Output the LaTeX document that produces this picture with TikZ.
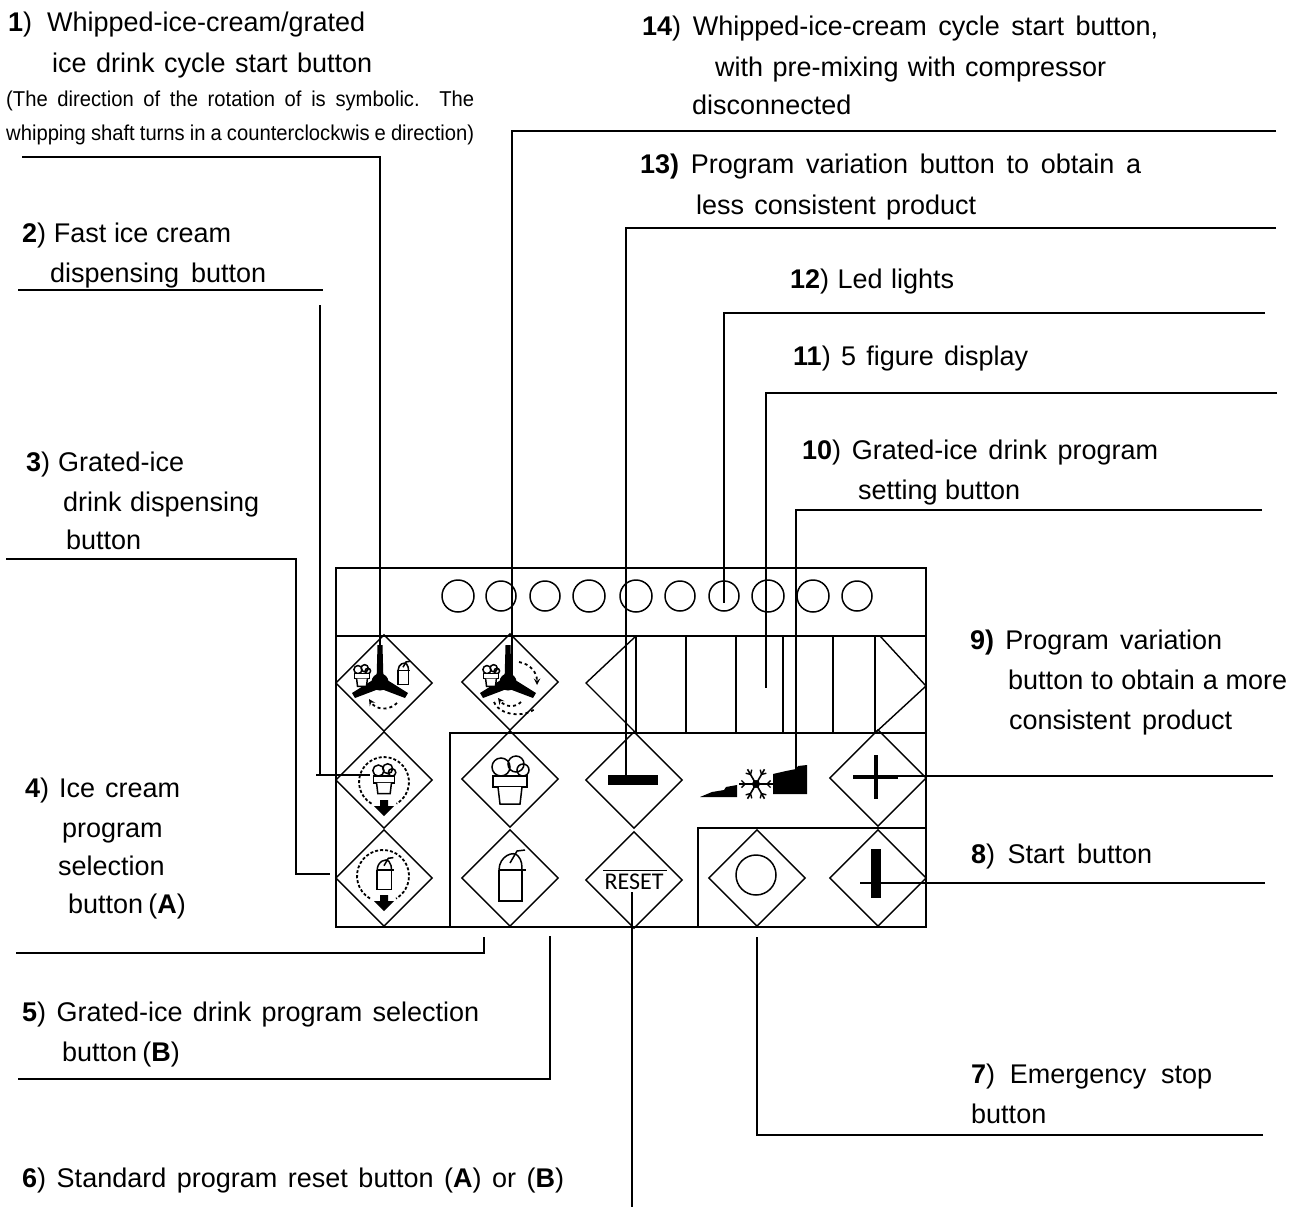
\documentclass[tikz,border=0pt]{standalone}
\usepackage{fontspec}
\setmainfont{Liberation Sans}
\newfontfamily\resetfont{Carlito}
\newfontfamily\narrowfont[FakeStretch=.94]{Liberation Sans}
\usetikzlibrary{shapes.geometric}
\newcommand{\fitw}[2]{\makebox[#1pt][s]{#2}}
\tikzset{
lab/.style={anchor=base west, inner sep=0pt, font=\fontsize{27}{30}\selectfont},
tiny lab/.style={anchor=base west, inner sep=0pt, font=\narrowfont\fontsize{21.5}{24}\selectfont},
panel/.style={line width=2.4pt},
lead/.style={line width=1.8pt},
btn/.style={diamond, draw, line width=1.4pt, inner sep=0pt, aspect=1, minimum width=97pt, minimum height=97pt},
ico/.style={line width=1.5pt},
pics/creamcup/.style={code={
  \draw[ico,fill=white] (-9,-12)circle(9pt) (6,-15)circle(8pt) (13,-9)circle(6pt);
  \draw[ico,fill=white] (-17,-3)--(17,-3)--(17,8)--(-17,8)--cycle;
  \draw[ico,fill=white] (-12,8)--(-10,25)--(10,25)--(12,8);
}},
pics/drinkcup/.style={code={
  \draw[ico] (-11,-8)..controls (-11,-22) and (4,-28)..(8,-22)..controls (12,-18) and (12,-12)..(12,-8);
  \draw[ico] (0,-15)--(7,-27)--(15,-28);
  \draw[ico,fill=white] (-11,-8)--(-11,23)--(12,23)--(12,-8);
  \draw[ico] (-11,-8)--(16,-8);
}},
pics/fan/.style={code={
  \fill (0,0)circle(8.5pt);
  \fill (-3.5,0)--(-2.5,-37)--(2.5,-37)--(3.5,0)--cycle;
  \fill (-4,-4)--(-28,11)--(-25,16)--(4,5)--cycle;
  \fill (4,-4)--(28,11)--(25,16)--(-4,5)--cycle;
}},
pics/downarrow/.style={code={
  \fill (-4,-8)--(4,-8)--(4,-2)--(10,-2)--(0,8)--(-10,-2)--(-4,-2)--cycle;
}},
}
\begin{document}
\begin{tikzpicture}[x=1pt, y=-1pt, line cap=butt, line join=miter, >=stealth]
\useasboundingbox (0,0) rectangle (1289,1207);
% panel
\draw[panel] (336,568) rectangle (926,927);
\draw[panel] (336,636)--(926,636) (450,927)--(450,733)--(926,733) (698,927)--(698,828)--(926,828);
\foreach \x in {636,686,736,783,833,875} \draw[panel,line width=2pt] (\x,636)--(\x,733);
% led lights
\foreach \x/\r [count=\i] in {458/16,501/15,545/15,589/16,636/16,680/15,724/15,768/16,813/16,857/15}
  \node[circle, draw, line width=1.5pt, inner sep=0pt, minimum size=2*\r pt] (led\i) at (\x,596) {};
% half buttons beside the display
\draw[line width=1.4pt] (636,636)--(586,683)--(636,733) (880,636)--(926,686)--(875,733);
% buttons
\node[btn] (fanA) at (384,683) {};
\node[btn] (fanB) at (510,682) {};
\node[btn] (fastcream) at (384,780) {};
\node[btn] (fastdrink) at (384,878) {};
\node[btn] (selA) at (510,779) {};
\node[btn] (selB) at (510,878) {};
\node[btn] (minus) at (634,780) {};
\node[btn] (reset) at (634,880) {};
\node[btn] (plus) at (878,778) {};
\node[btn] (stopbtn) at (757,878) {};
\node[btn] (startbtn) at (878,878) {};
% icons
\pic at (380,682) {fan};
\pic[scale=.45] at (362,675) {creamcup};
\pic[scale=.45] at (403,674) {drinkcup};
\draw[ico,line width=1.8pt,dashed,->] (397,703)..controls (389,711) and (376,710)..(369,699);
\pic at (508,682) {fan};
\pic[scale=.45] at (491,675) {creamcup};
\draw[ico,line width=1.8pt,dashed,->] (519,662)..controls (530,664) and (537,672)..(537,685);
\draw[ico,line width=1.8pt,dashed,->] (521,702)..controls (515,708) and (505,707)..(498,698);
\draw[ico,line width=1.8pt,dashed] (494,702)..controls (500,716) and (525,718)..(536,708);
\pic[scale=.62] at (384,778) {creamcup};
\draw[ico,line width=1.8pt,densely dashed] (384,782) ++(120:25) arc (120:420:25);
\pic at (384,808) {downarrow};
\pic[scale=.62] at (384,875) {drinkcup};
\draw[ico,line width=1.8pt,densely dashed] (383,876) ++(120:26) arc (120:420:26);
\pic at (384,903) {downarrow};
\pic at (510,779) {creamcup};
\pic at (510,878) {drinkcup};
\fill (608,775) rectangle (658,785);
\draw[line width=4pt] (853,777)--(898,777) (876,755)--(876,799);
\fill (871,849) rectangle (881,898);
\draw[line width=1.5pt] (756,875) circle (20pt);
\fill (700,797)--(712,792)--(724,790)--(726,787)--(737,785)--(737,797)--cycle;
\fill (773,774)--(786,771)--(796,769)--(798,766)--(807,765)--(807,794)--(773,794)--cycle;
\foreach \a in {0,60,...,300} {
  \draw[line width=1.6pt] (756,784)--++(\a:17);
  \draw[line width=1.4pt] (756,784)++(\a:11)--++(\a+45:5) (756,784)++(\a:11)--++(\a-45:5);
}
\fill (756,784) circle (4pt);
\node[inner sep=0pt, font=\resetfont\fontsize{24}{26}\selectfont] (resettext) at (634,882) {RESET};
\draw[line width=.7pt] (603,870)--(667,870);
% end points of the leaders
\path (22,157)coordinate(a1)+(358,0)coordinate(b1)+(358,523)coordinate(c1);
\path (1276,131)coordinate(a14)+(-764,0)coordinate(b14)+(-764,549)coordinate(c14);
\path (1276,228)coordinate(a13)+(-650,0)coordinate(b13)+(-650,552)coordinate(c13);
\path (1265,313)coordinate(a12)+(-541,0)coordinate(b12)+(-541,290)coordinate(c12);
\path (1277,393)coordinate(a11)+(-511,0)coordinate(b11)+(-511,295)coordinate(c11);
\path (1262,510)coordinate(a10)+(-466,0)coordinate(b10)+(-466,260)coordinate(c10);
\path (18,290)coordinate(a2)+(305,0)coordinate(b2)(320,305)coordinate(c2)(320,775)coordinate(d2)(370,775)coordinate(e2)(316,775)coordinate(f2);
\path (6,559)coordinate(a3)+(290,0)coordinate(b3)+(290,315)coordinate(c3)+(324,315)coordinate(d3);
\path (16,953)coordinate(a4)+(468,0)coordinate(b4)+(468,-16)coordinate(c4);
\path (18,1079)coordinate(a5)+(532,0)coordinate(b5)+(532,-143)coordinate(c5);
\path (632,892)coordinate(a6)+(0,315)coordinate(b6);
\path (1263,1135)coordinate(a7)+(-506,0)coordinate(b7)+(-506,-198)coordinate(c7);
\path (1265,883)coordinate(a8)+(-405,0)coordinate(b8);
\path (1273,776)coordinate(a9)+(-395,0)coordinate(b9);
% leaders
\draw[lead] (a1)--(b1)--(c1) (a14)--(b14)--(c14) (a13)--(b13)--(c13) (a12)--(b12)--(c12) (a11)--(b11)--(c11) (a10)--(b10)--(c10);
\draw[lead] (a2)--(b2) (c2)--(d2) (f2)--(e2) (a3)--(b3)--(c3)--(d3) (a4)--(b4)--(c4) (a5)--(b5)--(c5);
\draw[lead] (a6)--(b6) (a7)--(b7)--(c7) (a8)--(b8) (a9)--(b9);
% labels
\node[lab] (t1a) at (8,32) {\fitw{357}{\textbf{1}) Whipped-ice-cream/grated}};
\node[lab] (t1b) at (52,72) {\fitw{320}{ice drink cycle start button}};
\node[tiny lab] (t1c) at (6,106) {\fitw{468}{(The direction of the rotation of is symbolic. The}};
\node[tiny lab] (t1d) at (6,140) {\fitw{468}{whipping shaft turns in a counterclockwis e direction)}};
\node[lab] (t2a) at (22,242) {\fitw{209}{\textbf{2}) Fast ice cream}};
\node[lab] (t2b) at (50,282) {\fitw{216}{dispensing button}};
\node[lab] (t3a) at (26,471) {\fitw{158}{\textbf{3}) Grated-ice}};
\node[lab] (t3b) at (63,511) {\fitw{196}{drink dispensing}};
\node[lab] (t3c) at (66,549) {button};
\node[lab] (t4a) at (25,797) {\fitw{155}{\textbf{4}) Ice cream}};
\node[lab] (t4b) at (62,837) {program};
\node[lab] (t4c) at (58,875) {selection};
\node[lab] (t4d) at (68,913) {\fitw{115}{button (\textbf{A})}};
\node[lab] (t5a) at (22,1021) {\fitw{457}{\textbf{5}) Grated-ice drink program selection}};
\node[lab] (t5b) at (62,1061) {\fitw{115}{button (\textbf{B})}};
\node[lab] (t6) at (22,1187) {\fitw{542}{\textbf{6}) Standard program reset button (\textbf{A}) or (\textbf{B})}};
\node[lab] (t7a) at (971,1083) {\fitw{241}{\textbf{7}) Emergency stop}};
\node[lab] (t7b) at (971,1123) {button};
\node[lab] (t8) at (971,863) {\fitw{181}{\textbf{8}) Start button}};
\node[lab] (t9a) at (970,649) {\fitw{252}{\textbf{9)} Program variation}};
\node[lab] (t9b) at (1008,689) {\fitw{279}{button to obtain a more}};
\node[lab] (t9c) at (1009,729) {\fitw{223}{consistent product}};
\node[lab] (t10a) at (802,459) {\fitw{356}{\textbf{10}) Grated-ice drink program}};
\node[lab] (t10b) at (858,499) {\fitw{162}{setting button}};
\node[lab] (t11) at (793,365) {\fitw{235}{\textbf{11}) 5 figure display}};
\node[lab] (t12) at (790,288) {\fitw{164}{\textbf{12}) Led lights}};
\node[lab] (t13a) at (640,173) {\fitw{501}{\textbf{13)} Program variation button to obtain a}};
\node[lab] (t13b) at (696,214) {\fitw{280}{less consistent product}};
\node[lab] (t14a) at (642,36) {\fitw{516}{\textbf{14}) Whipped-ice-cream cycle start button,}};
\node[lab] (t14b) at (715,76) {\fitw{391}{with pre-mixing with compressor}};
\node[lab] (t14c) at (692,114) {disconnected};
\end{tikzpicture}
\end{document}
